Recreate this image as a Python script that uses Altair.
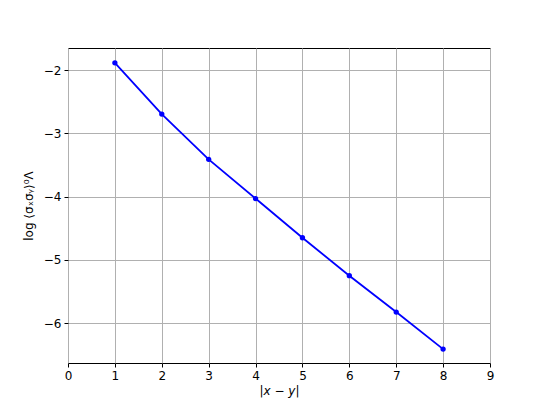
import altair as alt
import pandas as pd

dist = [1, 2, 3, 4, 5, 6, 7, 8]
logcorr = [-1.885, -2.695, -3.41, -4.03, -4.65, -5.25, -5.825, -6.41]
x_ticks = [0, 1, 2, 3, 4, 5, 6, 7, 8, 9]
y_ticks = [-6, -5, -4, -3, -2]

df = pd.DataFrame({"d": dist, "v": logcorr})

font = "DejaVu Sans"

base = alt.Chart(df).encode(
    x=alt.X("d:Q", scale=alt.Scale(domain=[0, 9], nice=False, zero=False),
            axis=alt.Axis(values=x_ticks, title="|x − y|", format="d",
                          labelFlush=False, titleFontStyle="italic")),
    y=alt.Y("v:Q", scale=alt.Scale(domain=[-6.63, -1.65], nice=False, zero=False),
            axis=alt.Axis(values=y_ticks, title="log ⟨σₓσᵧ⟩⁰Λ", format="d",
                          labelFlush=False)),
)

line = base.mark_line(color="#0000ff", strokeWidth=1.8)
pts = base.mark_circle(color="#0000ff", size=28, opacity=1)

chart = (line + pts).properties(
    width=422, height=315,
    autosize=alt.AutoSizeParams(type="none"),
    padding={"left": 60, "top": 40, "right": 47, "bottom": 38},
).configure_view(
    stroke="black", strokeWidth=1
).configure_axis(
    grid=True, gridColor="#b0b0b0", gridWidth=1,
    domain=False, tickColor="black", tickSize=4, tickWidth=1,
    labelFont=font, labelFontSize=12, labelColor="black", labelPadding=3,
    titleFont=font, titleFontSize=12, titleFontWeight="normal", titleColor="black",
).configure_axisX(
    titlePadding=4, labelAngle=0
).configure_axisY(
    titlePadding=8
)

chart.save("out.html", embed_options={"renderer": "svg", "actions": False})
